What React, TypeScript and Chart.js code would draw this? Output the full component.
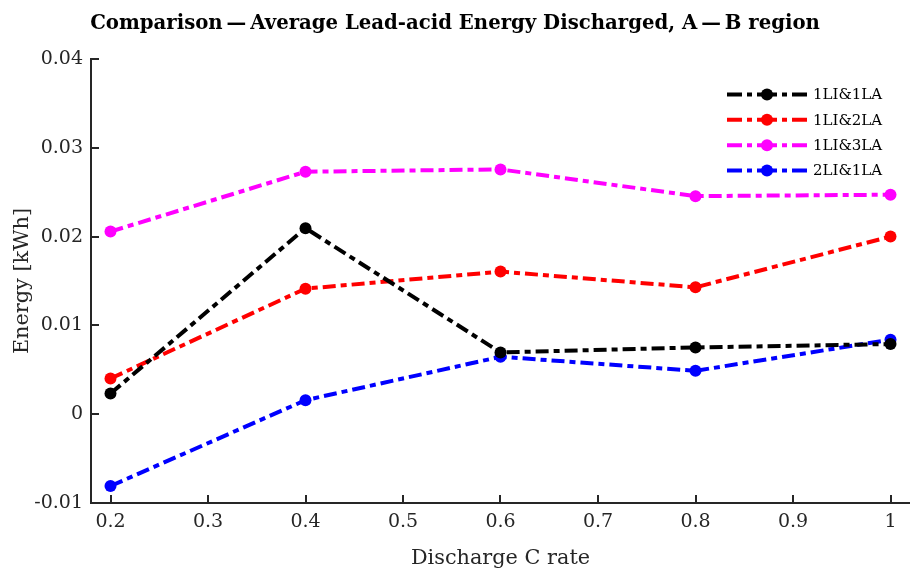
import React, { useEffect, useRef } from "react";
import { Chart, registerables } from "chart.js";

Chart.register(...registerables);

const FONT = "'DejaVu Serif', 'Liberation Serif', serif";

const titleText = "Comparison\u2009\u2014\u2009Average Lead-acid Energy Discharged, A\u2009\u2014\u2009B region";
const xAxisTitle = "Discharge C rate";
const yAxisTitle = "Energy [kWh]";

const cRates = [0.2, 0.4, 0.6, 0.8, 1.0];
const series1LI1LA = [0.00233, 0.02095, 0.00696, 0.00752, 0.0079];
const series1LI2LA = [0.00402, 0.01414, 0.01606, 0.01429, 0.02001];
const series1LI3LA = [0.02057, 0.02731, 0.02757, 0.02456, 0.02472];
const series2LI1LA = [-0.00809, 0.00158, 0.00647, 0.00489, 0.00839];
const seriesLabels = ["1LI&1LA", "1LI&2LA", "1LI&3LA", "2LI&1LA"];
const seriesColors = ["#000000", "#ff0000", "#ff00ff", "#0000ff"];

const xTickValues = [0.2, 0.3, 0.4, 0.5, 0.6, 0.7, 0.8, 0.9, 1.0];
const xTickLabels = ["0.2", "0.3", "0.4", "0.5", "0.6", "0.7", "0.8", "0.9", "1"];
const yTickValues = [-0.01, 0, 0.01, 0.02, 0.03, 0.04];
const yTickLabels = ["-0.01", "0", "0.01", "0.02", "0.03", "0.04"];

const DASH = [13, 5, 6, 5];
const AXIS_COLOR = "#262626";

function labelFor(values: number[], labels: string[], v: number): string {
  const i = values.findIndex((t) => Math.abs(t - v) < 1e-9);
  return i >= 0 ? labels[i] : "";
}

const inwardTicks = {
  id: "inwardTicks",
  afterDraw(chart: any) {
    const { ctx, chartArea, scales } = chart;
    const len = 8;
    ctx.save();
    ctx.strokeStyle = AXIS_COLOR;
    ctx.lineWidth = 2;
    ctx.setLineDash([]);
    ctx.beginPath();
    for (const v of xTickValues) {
      const px = Math.round(scales.x.getPixelForValue(v));
      ctx.moveTo(px, chartArea.bottom);
      ctx.lineTo(px, chartArea.bottom - len);
    }
    for (const v of yTickValues) {
      const py = Math.round(scales.y.getPixelForValue(v));
      ctx.moveTo(chartArea.left, py);
      ctx.lineTo(chartArea.left + len, py);
    }
    ctx.stroke();
    ctx.restore();
  },
};

const lineLegend = {
  id: "lineLegend",
  afterDraw(chart: any) {
    const { ctx, chartArea } = chart;
    const x0 = chartArea.right - 183;
    const x1 = chartArea.right - 103;
    const xm = (x0 + x1) / 2;
    const y0 = chartArea.top + 35.5;
    const step = 25.3;
    ctx.save();
    chart.data.datasets.forEach((ds: any, i: number) => {
      const y = y0 + i * step;
      ctx.strokeStyle = ds.borderColor;
      ctx.lineWidth = ds.borderWidth;
      ctx.setLineDash([15, 5, 5, 5]);
      ctx.beginPath();
      ctx.moveTo(x0, y);
      ctx.lineTo(xm, y);
      ctx.stroke();
      ctx.beginPath();
      ctx.moveTo(x1, y);
      ctx.lineTo(xm, y);
      ctx.stroke();
      ctx.setLineDash([]);
      ctx.fillStyle = ds.pointBackgroundColor;
      ctx.beginPath();
      ctx.arc(xm, y, ds.pointRadius, 0, Math.PI * 2);
      ctx.fill();
      ctx.fillStyle = "#000000";
      ctx.font = `15px ${FONT}`;
      ctx.textAlign = "left";
      ctx.textBaseline = "middle";
      ctx.fillText(ds.label, x1 + 6, y + 1);
    });
    ctx.restore();
  },
};

function makeDataset(label: string, values: number[], color: string) {
  return {
    label,
    data: cRates.map((x, i) => ({ x, y: values[i] })),
    borderColor: color,
    backgroundColor: color,
    pointBackgroundColor: color,
    pointBorderColor: color,
    pointRadius: 6,
    pointBorderWidth: 0,
    borderWidth: 4,
    borderDash: DASH,
    fill: false,
    tension: 0,
  };
}

export default function App() {
  const ref = useRef<HTMLCanvasElement | null>(null);

  useEffect(() => {
    if (!ref.current) return;
    Chart.defaults.font.family = FONT;
    const allSeries = [series1LI1LA, series1LI2LA, series1LI3LA, series2LI1LA];
    const chart = new Chart(ref.current, {
      type: "line",
      data: {
        datasets: allSeries.map((s, i) => makeDataset(seriesLabels[i], s, seriesColors[i])),
      },
      options: {
        animation: false,
        responsive: false,
        devicePixelRatio: 1,
        layout: { padding: 0, autoPadding: false },
        plugins: {
          legend: { display: false },
          tooltip: { enabled: false },
          title: {
            display: true,
            text: titleText,
            color: "#000000",
            font: { family: FONT, size: 19.7, weight: "bold" },
            padding: { top: 12, bottom: 23.4 },
          },
        },
        scales: {
          x: {
            type: "linear",
            min: 0.18,
            max: 1.02,
            afterBuildTicks: (scale: any) => {
              scale.ticks = xTickValues.map((v) => ({ value: v }));
            },
            afterFit: (scale: any) => {
              scale.height = 74;
              scale.paddingLeft = 0;
              scale.paddingRight = 0;
            },
            ticks: {
              color: AXIS_COLOR,
              font: { family: FONT, size: 19 },
              padding: 8,
              maxRotation: 0,
              callback: (v: any) => labelFor(xTickValues, xTickLabels, Number(v)),
            },
            grid: { display: false, drawTicks: false },
            border: { display: true, color: AXIS_COLOR, width: 2 },
            title: {
              display: true,
              text: xAxisTitle,
              color: AXIS_COLOR,
              font: { family: FONT, size: 20.8 },
              padding: { top: 0, bottom: 6 },
            },
          },
          y: {
            type: "linear",
            min: -0.01,
            max: 0.04,
            afterBuildTicks: (scale: any) => {
              scale.ticks = yTickValues.map((v) => ({ value: v }));
            },
            afterFit: (scale: any) => {
              scale.width = 91;
              scale.paddingTop = 0;
              scale.paddingBottom = 0;
            },
            ticks: {
              color: AXIS_COLOR,
              font: { family: FONT, size: 19 },
              padding: 8,
              callback: (v: any) => labelFor(yTickValues, yTickLabels, Number(v)),
            },
            grid: { display: false, drawTicks: false },
            border: { display: true, color: AXIS_COLOR, width: 2 },
            title: {
              display: true,
              text: yAxisTitle,
              color: AXIS_COLOR,
              font: { family: FONT, size: 20.8 },
              padding: { top: 10, bottom: 0 },
            },
          },
        },
      },
      plugins: [inwardTicks, lineLegend],
    } as any);
    return () => chart.destroy();
  }, []);

  return (
    <div style={{ position: "absolute", left: 0, top: 0, width: 910, height: 577, background: "#ffffff" }}>
      <canvas ref={ref} width={910} height={577} style={{ display: "block" }} />
    </div>
  );
}
